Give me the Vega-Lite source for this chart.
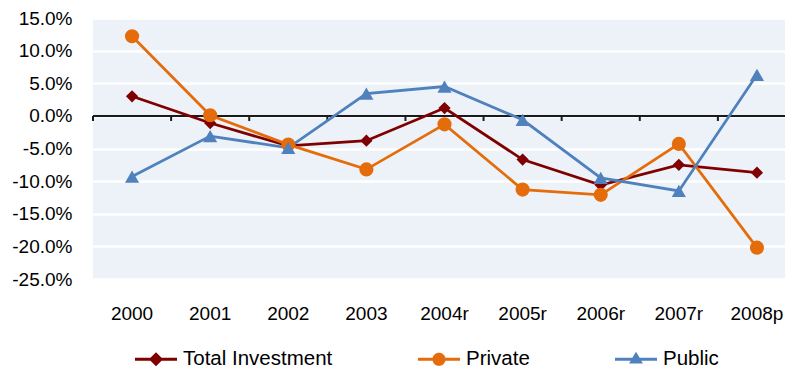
{
  "$schema": "https://vega.github.io/schema/vega-lite/v6.json",
  "width": 692,
  "height": 261,
  "autosize": {"type": "none"},
  "padding": {"left": 93, "top": 18, "right": 0, "bottom": 90},
  "background": "white",
  "config": {
    "font": "Liberation Sans",
    "view": {"fill": "#EDF2F8", "stroke": null}
  },
  "data": {
    "values": [
      {"year": "2000", "series": "Total Investment", "value": 0.030},
      {"year": "2001", "series": "Total Investment", "value": -0.011},
      {"year": "2002", "series": "Total Investment", "value": -0.046},
      {"year": "2003", "series": "Total Investment", "value": -0.038},
      {"year": "2004r", "series": "Total Investment", "value": 0.012},
      {"year": "2005r", "series": "Total Investment", "value": -0.067},
      {"year": "2006r", "series": "Total Investment", "value": -0.106},
      {"year": "2007r", "series": "Total Investment", "value": -0.075},
      {"year": "2008p", "series": "Total Investment", "value": -0.087},
      {"year": "2000", "series": "Private", "value": 0.122},
      {"year": "2001", "series": "Private", "value": 0.001},
      {"year": "2002", "series": "Private", "value": -0.044},
      {"year": "2003", "series": "Private", "value": -0.082},
      {"year": "2004r", "series": "Private", "value": -0.013},
      {"year": "2005r", "series": "Private", "value": -0.113},
      {"year": "2006r", "series": "Private", "value": -0.121},
      {"year": "2007r", "series": "Private", "value": -0.043},
      {"year": "2008p", "series": "Private", "value": -0.202},
      {"year": "2000", "series": "Public", "value": -0.093},
      {"year": "2001", "series": "Public", "value": -0.031},
      {"year": "2002", "series": "Public", "value": -0.049},
      {"year": "2003", "series": "Public", "value": 0.034},
      {"year": "2004r", "series": "Public", "value": 0.045},
      {"year": "2005r", "series": "Public", "value": -0.006},
      {"year": "2006r", "series": "Public", "value": -0.095},
      {"year": "2007r", "series": "Public", "value": -0.115},
      {"year": "2008p", "series": "Public", "value": 0.063}
    ]
  },
  "layer": [
    {
      "mark": {"type": "rule", "color": "#1a1a1a", "strokeWidth": 2},
      "encoding": {
        "y": {
          "datum": 0, "type": "quantitative",
          "scale": {"domain": [-0.25, 0.15], "nice": false, "zero": false},
          "axis": {"title": null, "values": [-0.25, -0.2, -0.15, -0.1, -0.05, 0, 0.05, 0.1, 0.15], "tickCount": 20, "labelExpr": "replace(format(datum.value, '.1%'), '\u2212', '-')", "labelOverlap": false, "domain": false, "ticks": false, "labelPadding": 21, "labelFontSize": 19, "labelColor": "black", "grid": true, "gridColor": "#ffffff", "gridWidth": 2.5, "gridOpacity": 1}
        }
      }
    },
    {
      "transform": [{"filter": "datum.series === 'Total Investment'"}],
      "mark": {"type": "rule", "color": "#1a1a1a", "strokeWidth": 2},
      "encoding": {
        "x": {"field": "year", "type": "nominal", "bandPosition": 0, "sort": null},
        "y": {"datum": 0, "type": "quantitative"},
        "y2": {"datum": -0.0078}
      }
    },
    {
      "mark": {"type": "line", "strokeWidth": 2.75},
      "encoding": {
        "x": {
          "field": "year", "type": "nominal", "sort": null,
          "scale": {"range": [0, 703], "paddingInner": 0, "paddingOuter": 0},
          "axis": {"title": null, "labelAngle": 0, "labelAlign": "center", "bandPosition": 0.5, "domain": false, "ticks": false, "tickSize": 0, "labelPadding": 34, "labelFontSize": 19, "labelColor": "black", "grid": false}
        },
        "y": {"field": "value", "type": "quantitative"},
        "color": {
          "field": "series", "type": "nominal",
          "scale": {"domain": ["Total Investment", "Private", "Public"], "range": ["#7F0000", "#E46C0A", "#4F81BD"]},
          "legend": {
            "title": null, "orient": "none", "legendX": 42, "legendY": 320,
            "direction": "horizontal", "columns": 3, "columnPadding": 85,
            "labelFontSize": 20.5, "labelColor": "black", "labelOffset": 6, "labelLimit": 300,
            "symbolSize": 1764, "padding": 0, "symbolStrokeWidth": 0,
            "encode": {
              "symbols": {
                "update": {
                  "shape": {"signal": "datum.value === 'Private' ? 'M-1,-0.067H-0.3027A0.31,0.31 0 0 1 0.3027,-0.067H1V0.067H0.3027A0.31,0.31 0 0 1 -0.3027,0.067H-1Z' : datum.value === 'Public' ? 'M-1,-0.067H-0.173L0,-0.36L0.173,-0.067H1V0.067H0.251L0.33,0.2H-0.33L-0.251,0.067H-1Z' : 'M-1,-0.067H-0.263L0,-0.33L0.263,-0.067H1V0.067H0.263L0,0.33L-0.263,0.067H-1Z'"},
                  "fill": {"signal": "scale('color', datum.value)"},
                  "stroke": {"value": "transparent"},
                  "opacity": {"value": 1},
                  "fillOpacity": {"value": 1}
                }
              }
            }
          }
        }
      }
    },
    {
      "transform": [{"filter": "datum.series === 'Total Investment'"}],
      "mark": {"type": "point", "filled": true, "opacity": 1, "strokeWidth": 0, "shape": "diamond", "size": 150, "color": "#7F0000"},
      "encoding": {
        "x": {"field": "year", "type": "nominal", "sort": null},
        "y": {"field": "value", "type": "quantitative"}
      }
    },
    {
      "transform": [{"filter": "datum.series === 'Private'"}],
      "mark": {"type": "point", "filled": true, "opacity": 1, "strokeWidth": 0, "shape": "circle", "size": 200, "color": "#E46C0A"},
      "encoding": {
        "x": {"field": "year", "type": "nominal", "sort": null},
        "y": {"field": "value", "type": "quantitative"}
      }
    },
    {
      "transform": [{"filter": "datum.series === 'Public'"}],
      "mark": {"type": "point", "filled": true, "opacity": 1, "strokeWidth": 0, "shape": "triangle-up", "size": 200, "color": "#4F81BD"},
      "encoding": {
        "x": {"field": "year", "type": "nominal", "sort": null},
        "y": {"field": "value", "type": "quantitative"}
      }
    }
  ]
}
